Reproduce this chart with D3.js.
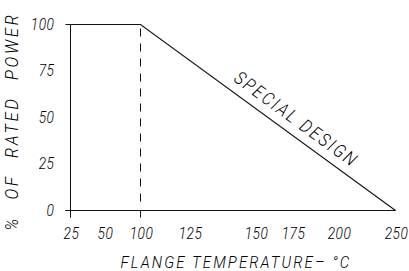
<!DOCTYPE html>
<html><head><meta charset="utf-8">
<script src="https://cdn.jsdelivr.net/npm/d3@7"></script>
<style>
html,body{margin:0;padding:0;background:#fff;}
text{font-family:Roboto,"Open Sans",sans-serif;font-weight:300;font-style:italic;fill:#000;white-space:pre;}
</style></head>
<body><svg id="c" width="409" height="271"></svg>
<script>
// data
const temps = [25, 100, 250];
const power = [100, 100, 0];
const xTickLabels = [25, 50, 100, 125, 150, 175, 200, 250];
const yTickLabels = [0, 25, 50, 75, 100];
const xTickMarks = [25, 100];
const yTickMarks = [0, 100];
const xTitle = "FLANGE TEMPERATURE– °C";
const yTitle = "% OF RATED POWER";
const note = "SPECIAL DESIGN";

const W = 409, H = 271;
const m = {l: 70.5, r: 13.5, t: 24.5, b: 60.5};
const w = W - m.l - m.r, h = H - m.t - m.b;
// drawing is not to scale: piecewise positions of the printed tick values
const xFrac = [0, 0.105, 0.216, 0.367, 0.57, 0.683, 0.825, 1];
const x = d3.scaleLinear().domain(xTickLabels).range(xFrac.map(f => Math.round(f * w)));
const y = d3.scaleLinear().domain([0, 100]).range([h, 0]);
const SX = 0.86; // narrow lettering

const svg = d3.select("#c");
const g = svg.append("g").attr("transform", `translate(${m.l},${m.t})`);
const stroke = "#111";

g.append("line").attr("x1", -5).attr("x2", x(250)).attr("y1", y(0)).attr("y2", y(0))
  .attr("stroke", stroke);
g.append("line").attr("x1", x(25)).attr("x2", x(25)).attr("y1", y(100)).attr("y2", y(0) + 7)
  .attr("stroke", stroke);
g.selectAll(".yt").data(yTickMarks).join("line")
  .attr("x1", -5).attr("x2", 0).attr("y1", d => y(d)).attr("y2", d => y(d))
  .attr("stroke", stroke);
g.selectAll(".xt").data(xTickMarks).join("line")
  .attr("x1", d => x(d)).attr("x2", d => x(d)).attr("y1", y(0)).attr("y2", y(0) + 7)
  .attr("stroke", stroke);

g.append("line").attr("x1", x(100)).attr("x2", x(100)).attr("y1", y(100) + 4).attr("y2", y(0) - 3)
  .attr("stroke", stroke).attr("stroke-dasharray", "8,7");

const pts = temps.map((t, i) => [x(t), y(power[i])]);
g.append("path").datum(pts).attr("d", d3.line())
  .attr("fill", "none").attr("stroke", stroke).attr("stroke-width", 1.1);

// tick labels
g.selectAll(".xl").data(xTickLabels).join("g")
  .attr("transform", d => `translate(${x(d) + 1},${y(0) + 28}) scale(${SX},1)`)
  .append("text").attr("text-anchor", "middle").attr("font-size", 16).attr("letter-spacing", 0.6)
  .text(d => d);
g.selectAll(".yl").data(yTickLabels).join("g")
  .attr("transform", d => `translate(-16,${y(d) + 5}) scale(${SX},1)`)
  .append("text").attr("text-anchor", "end").attr("font-size", 16).attr("letter-spacing", 0.6)
  .text(d => d);

// spaced title: letters spread, words spread to reach target length
function title(str, tf, target, ls, sx, fs) {
  const t = g.append("g").attr("transform", tf + ` scale(${sx},1)`)
    .append("text").attr("font-size", fs).attr("letter-spacing", ls).text(str);
  const len = t.node().getComputedTextLength();
  const nSp = str.split(" ").length - 1;
  t.attr("word-spacing", Math.max(0, (target / sx - len) / nSp));
  return t;
}
title(xTitle, `translate(50,${y(0) + 57})`, 230, 2.4, 0.88, 17);
title(yTitle, `translate(-53,206) rotate(-90)`, 218, 3.2, 0.86, 19);

const p0 = pts[1], p1 = pts[2];
const ang = Math.atan2(p1[1] - p0[1], p1[0] - p0[0]) * 180 / Math.PI;
const mx = p0[0] + (p1[0] - p0[0]) * 0.575, my = p0[1] + (p1[1] - p0[1]) * 0.575;
title(note, `translate(${mx},${my}) rotate(${ang}) translate(-74,-9)`, 148, 2.6, 0.86, 18.5);
</script></body></html>
